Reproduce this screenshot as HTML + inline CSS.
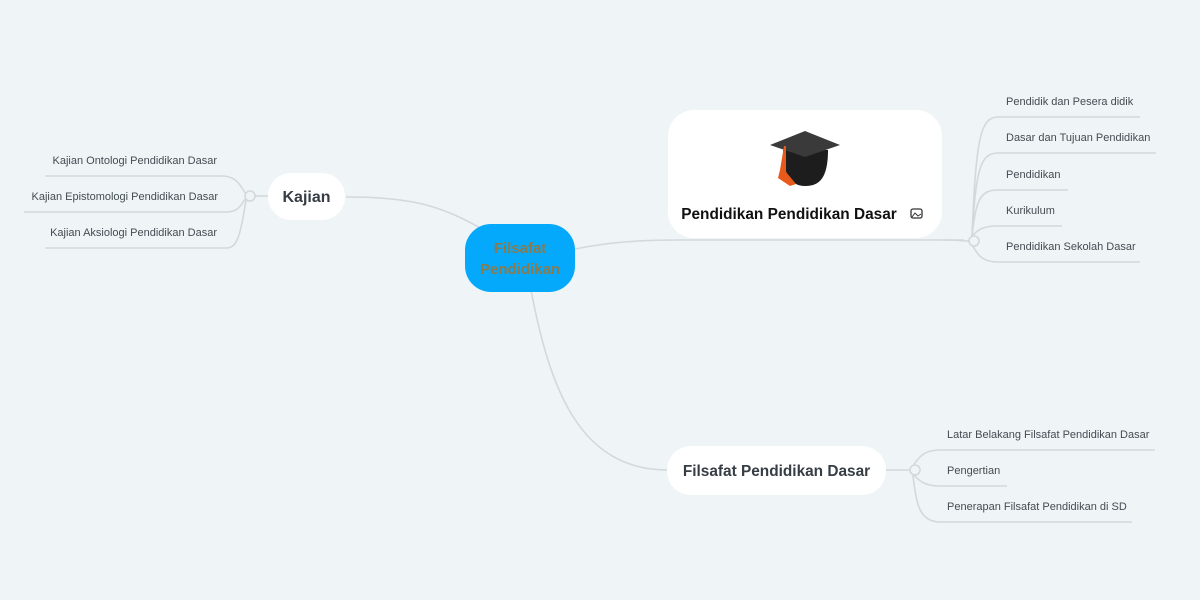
<!DOCTYPE html>
<html><head><meta charset="utf-8"><style>
html,body{margin:0;padding:0;background:#eff4f7;}
svg{display:block;font-family:"Liberation Sans",sans-serif;}
</style></head><body>
<svg width="1200" height="600" viewBox="0 0 1200 600" xmlns="http://www.w3.org/2000/svg">
<rect width="1200" height="600" fill="#eff4f7"/>
<g fill="none" stroke="#d3d8dc" stroke-width="1.6">
<path d="M482 229 C440 205 410 197 346 197"/>
<path d="M575 249 C610 242 640 240 680 240 L964 240"/>
<path d="M531 290 C550 390 580 470 668 470"/>
<path d="M268 196 L255 196"/>
<path d="M245 193 C238 180 232 176 222 176 L45 176"/>
<path d="M245 199 C240 208 236 212 226 212 L24 212"/>
<path d="M246 200 C240 240 236 248 226 248 L45 248"/>
<path d="M969 241 C962 241 960 240 942 240"/>
<path d="M972 236 C976 140 980 117 998 117 L1140 117"/>
<path d="M972 236 C976 170 980 153 998 153 L1156 153"/>
<path d="M972 236 C976 200 980 190 998 190 L1068 190"/>
<path d="M972 236 C978 230 982 226 998 226 L1062 226"/>
<path d="M972 245 C978 255 982 262 998 262 L1140 262"/>
<path d="M886 470 L910 470"/>
<path d="M913 466 C920 455 926 450 940 450 L1155 450"/>
<path d="M913 474 C920 482 926 486 940 486 L1007 486"/>
<path d="M913 475 C916 505 920 522 940 522 L1132 522"/>
</g>
<g fill="#eff4f7" stroke="#d3d8dc" stroke-width="1.6">
<circle cx="250" cy="196" r="5"/>
<circle cx="974" cy="241" r="5"/>
<circle cx="915" cy="470" r="5"/>
</g>
<rect x="465" y="224" width="110" height="68" rx="26" fill="#05a9fc"/>
<text x="520" y="253" text-anchor="middle" font-size="15" font-weight="bold" fill="#8a7a4e">Filsafat</text>
<text x="520" y="274" text-anchor="middle" font-size="15" font-weight="bold" fill="#8a7a4e">Pendidikan</text>

<rect x="268" y="173" width="77" height="47" rx="23" fill="#fff"/>
<text x="306.5" y="202" text-anchor="middle" font-size="16" font-weight="bold" fill="#363d44">Kajian</text>

<rect x="668" y="110" width="274" height="128" rx="26" fill="#fff"/>
<g>
<path d="M783 150 C783 180 795 186 805 186 C818 186 828 180 828 150 Z" fill="#1d1d1d"/>
<polygon points="770,145 805,131 840,145 805,157" fill="#3a3a3a"/>
<path d="M784 146 L780 170 L778 178 L790 186 L796 184 L786 172 L786 146 Z" fill="#e85a1c"/>
</g>
<text x="789" y="219" text-anchor="middle" font-size="15.4" font-weight="bold" fill="#111">Pendidikan Pendidikan Dasar</text>
<rect x="911" y="209" width="11" height="9" rx="2" fill="none" stroke="#333" stroke-width="1.3"/>
<path d="M912 217 L915 213 L918 216 L921 214" fill="none" stroke="#333" stroke-width="1"/>

<rect x="667" y="446" width="219" height="49" rx="24" fill="#fff"/>
<text x="776.5" y="476" text-anchor="middle" font-size="15.4" font-weight="bold" fill="#363d44">Filsafat Pendidikan Dasar</text>

<g font-size="11" fill="#444b52">
<text x="217" y="164" text-anchor="end">Kajian Ontologi Pendidikan Dasar</text>
<text x="218" y="200" text-anchor="end">Kajian Epistomologi Pendidikan Dasar</text>
<text x="217" y="236" text-anchor="end">Kajian Aksiologi Pendidikan Dasar</text>
<text x="1006" y="105">Pendidik dan Pesera didik</text>
<text x="1006" y="141">Dasar dan Tujuan Pendidikan</text>
<text x="1006" y="178">Pendidikan</text>
<text x="1006" y="214">Kurikulum</text>
<text x="1006" y="250">Pendidikan Sekolah Dasar</text>
<text x="947" y="438">Latar Belakang Filsafat Pendidikan Dasar</text>
<text x="947" y="474">Pengertian</text>
<text x="947" y="510">Penerapan Filsafat Pendidikan di SD</text>
</g>
</svg>
</body></html>
